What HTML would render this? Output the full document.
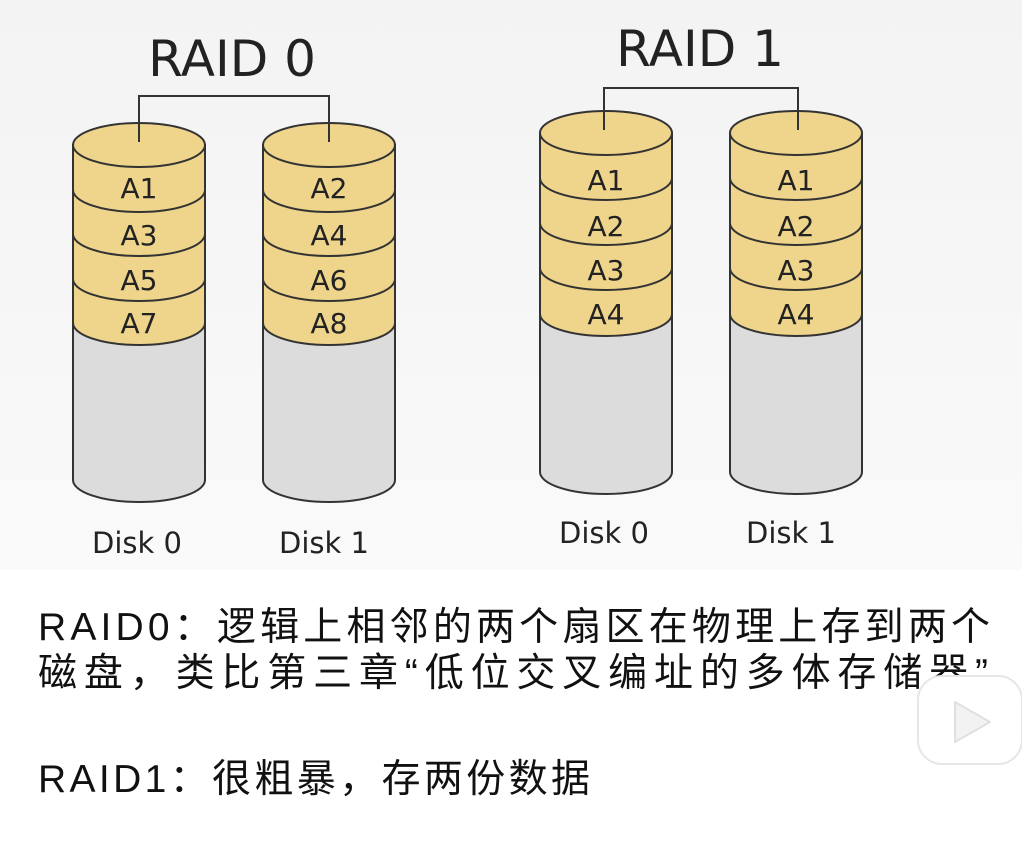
<!DOCTYPE html>
<html><head><meta charset="utf-8"><style>
html,body{margin:0;padding:0;background:#fff}
svg{display:block}
.t{font-family:"DejaVu Sans","Liberation Sans",sans-serif;fill:#222}
.c{font-family:"Liberation Sans","Noto Sans CJK SC",sans-serif;fill:#111;font-size:39px}
</style></head><body>
<svg width="1022" height="844" viewBox="0 0 1022 844" xmlns="http://www.w3.org/2000/svg">
<defs><linearGradient id="bg" x1="0" y1="0" x2="0" y2="1">
<stop offset="0" stop-color="#f3f3f3"/><stop offset="0.7" stop-color="#fafafa"/><stop offset="1" stop-color="#ffffff"/></linearGradient></defs>
<rect width="1022" height="844" fill="url(#bg)"/>
<rect y="570" width="1022" height="274" fill="#fff"/>

<text class="t" x="232" y="76" font-size="50" text-anchor="middle">RAID 0</text>
<text class="t" x="700" y="66" font-size="50" text-anchor="middle">RAID 1</text>

<g stroke="#333" stroke-width="2">
<path d="M73,145 V480 A66,22 0 0 0 205,480 V145 Z" fill="#dcdcdc"/>
<path d="M73,145 V323 A66,22 0 0 0 205,323 V145 Z" fill="#efd48c"/>
<path fill="none" d="M73,190 A66,22 0 0 0 205,190 M73,234 A66,22 0 0 0 205,234 M73,279 A66,22 0 0 0 205,279"/>
<ellipse cx="139" cy="145" rx="66" ry="22" fill="#efd48c"/>
<path d="M263,145 V480 A66,22 0 0 0 395,480 V145 Z" fill="#dcdcdc"/>
<path d="M263,145 V323 A66,22 0 0 0 395,323 V145 Z" fill="#efd48c"/>
<path fill="none" d="M263,190 A66,22 0 0 0 395,190 M263,234 A66,22 0 0 0 395,234 M263,279 A66,22 0 0 0 395,279"/>
<ellipse cx="329" cy="145" rx="66" ry="22" fill="#efd48c"/>
<path d="M540,133 V472 A66,22 0 0 0 672,472 V133 Z" fill="#dcdcdc"/>
<path d="M540,133 V314 A66,22 0 0 0 672,314 V133 Z" fill="#efd48c"/>
<path fill="none" d="M540,178 A66,22 0 0 0 672,178 M540,223 A66,22 0 0 0 672,223 M540,268 A66,22 0 0 0 672,268"/>
<ellipse cx="606" cy="133" rx="66" ry="22" fill="#efd48c"/>
<path d="M730,133 V472 A66,22 0 0 0 862,472 V133 Z" fill="#dcdcdc"/>
<path d="M730,133 V314 A66,22 0 0 0 862,314 V133 Z" fill="#efd48c"/>
<path fill="none" d="M730,178 A66,22 0 0 0 862,178 M730,223 A66,22 0 0 0 862,223 M730,268 A66,22 0 0 0 862,268"/>
<ellipse cx="796" cy="133" rx="66" ry="22" fill="#efd48c"/>
</g>
<g fill="none" stroke="#333" stroke-width="2">
<path d="M139,142 V96 H329 V142"/>
<path d="M604,130 V88 H798 V130"/>
</g>

<g class="t" font-size="28" text-anchor="middle">
<text x="139" y="198">A1</text><text x="139" y="245">A3</text><text x="139" y="290">A5</text><text x="139" y="333">A7</text>
<text x="329" y="198">A2</text><text x="329" y="245">A4</text><text x="329" y="290">A6</text><text x="329" y="333">A8</text>
<text x="606" y="190">A1</text><text x="606" y="236">A2</text><text x="606" y="280">A3</text><text x="606" y="324">A4</text>
<text x="796" y="190">A1</text><text x="796" y="236">A2</text><text x="796" y="280">A3</text><text x="796" y="324">A4</text>
</g>
<g class="t" font-size="29" text-anchor="middle">
<text x="137" y="553">Disk 0</text><text x="324" y="553">Disk 1</text>
<text x="604" y="543">Disk 0</text><text x="791" y="543">Disk 1</text>
</g>

<text class="c" x="38" y="640" textLength="952" lengthAdjust="spacing">RAID0：逻辑上相邻的两个扇区在物理上存到两个</text>
<text class="c" x="38" y="686" textLength="950" lengthAdjust="spacing">磁盘，类比第三章“低位交叉编址的多体存储器”</text>
<text class="c" x="38" y="792" textLength="552" lengthAdjust="spacing">RAID1：很粗暴，存两份数据</text>

<g>
<rect x="918" y="676" width="104" height="88" rx="24" fill="#fff" stroke="#e6e6e6" stroke-width="2"/>
<path d="M955,702 L955,742 L990,722 Z" fill="#f2f2f2" stroke="#e0e0e0" stroke-width="2" stroke-linejoin="round"/>
</g>
</svg>
</body></html>
